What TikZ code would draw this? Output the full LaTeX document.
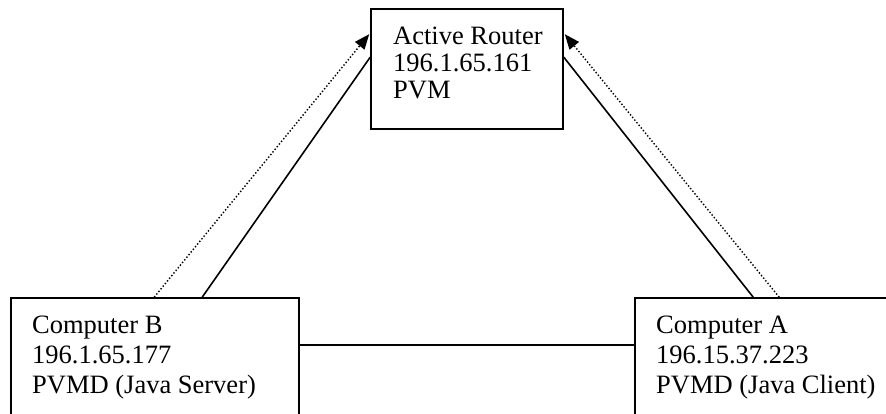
\documentclass[tikz,border=0pt]{standalone}
\usepackage{fontspec}
\setmainfont{Liberation Serif}
\usetikzlibrary{calc,arrows.meta}
\begin{document}
\begin{tikzpicture}[x=1pt,y=-1pt,
  boxstyle/.style={draw=black,line width=1.6pt,inner sep=0pt,rectangle},
  txt/.style={anchor=base west,inner sep=0pt,font=\fontsize{26.5}{30}\selectfont},
  link/.style={line width=1.6pt},
  dotlink/.style={line width=1.4pt,dotted,-{Triangle[length=15pt,width=12pt]}}]
\useasboundingbox (0,0) rectangle (886,414);
\clip (0,0) rectangle (886,414);
\fill[white] (0,0) rectangle (886,414);
% boxes
\node[boxstyle,minimum width=192pt,minimum height=120pt] (R) at (467,69) {};
\node[boxstyle,minimum width=288pt,minimum height=160pt] (B) at (155,378) {};
\node[boxstyle,minimum width=280pt,minimum height=160pt] (A) at (775,378) {};
% texts
\node[txt] (r1) at (393,45) {Active Router};
\node[txt] (r2) at (393,72) {196.1.65.161};
\node[txt] (r3) at (393,99) {PVM};
\node[txt] (b1) at (32,333) {Computer B};
\node[txt] (b2) at (32,363) {196.1.65.177};
\node[txt] (b3) at (32,393) {PVMD (Java Server)};
\node[txt] (a1) at (656,333) {Computer A};
\node[txt] (a2) at (656,363) {196.15.37.223};
\node[txt] (a3) at (656,393) {PVMD (Java Client)};
% connectors
\draw[link] ($(B.north west)+(192,0)$) -- ($(R.north west)+(0,49)$);
\draw[dotlink] ($(B.north west)+(144,0)$) -- ($(R.north west)+(-1,26)$);
\draw[link] ($(A.north west)+(119,0)$) -- ($(R.north east)+(0,49)$);
\draw[dotlink] ($(A.north west)+(145,0)$) -- ($(R.north east)+(1,26)$);
\draw[link] ($(B.north east)+(0,48)$) -- ($(A.north west)+(0,48)$);
\end{tikzpicture}
\end{document}
